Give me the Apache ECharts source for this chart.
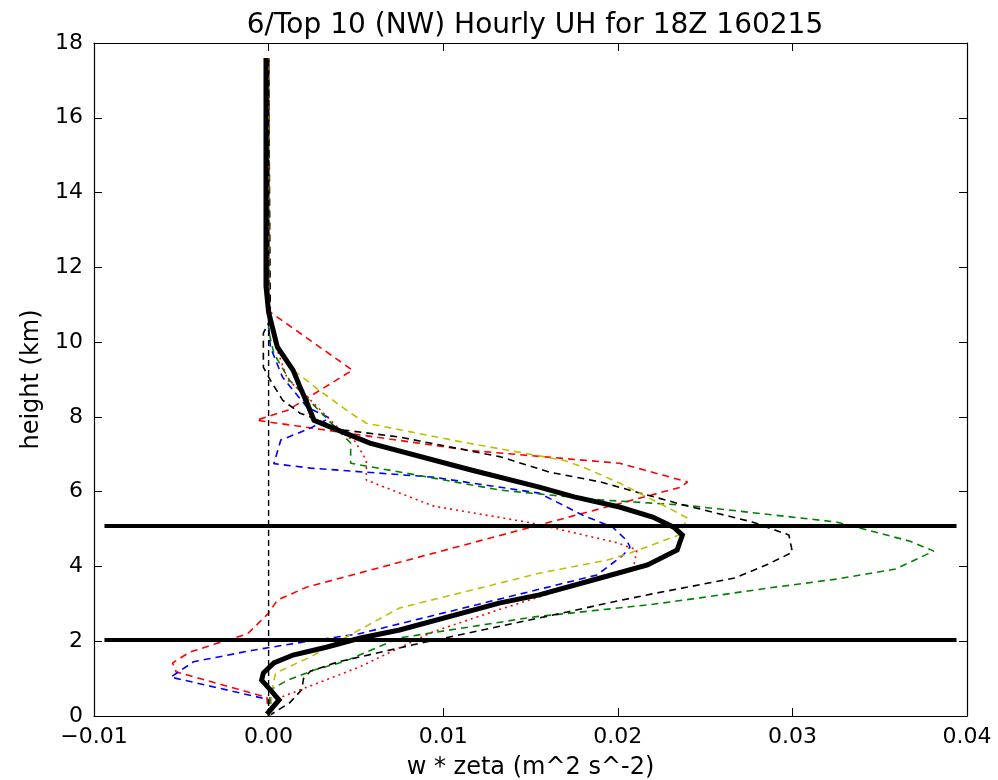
<!DOCTYPE html>
<html>
<head>
<meta charset="utf-8">
<script src="https://cdn.jsdelivr.net/npm/echarts@6/dist/echarts.min.js"></script>
<style>
html,body{margin:0;padding:0;background:#fff;}
#chart{width:998px;height:780px;}
</style>
</head>
<body>
<div id="chart"></div>
<script>
// ---- data (x: w*zeta, y: height km) ----
const titleText = '6/Top 10 (NW) Hourly UH for 18Z 160215';
const xTicks = [-0.01, 0.00, 0.01, 0.02, 0.03, 0.04];
const yTicks = [0, 2, 4, 6, 8, 10, 12, 14, 16, 18];

const redDashH = [0.0, 0.5, 1.18, 1.42, 1.71, 1.95, 2.2, 2.75, 3.1, 3.45, 6.12, 6.26, 6.76, 7.1, 7.91, 8.18, 9.25, 10.8, 11.5, 17.6];
const redDashV = [0.0, -0.0001, -0.0053, -0.0055, -0.0045, -0.0029, -0.0012, 0.0, 0.0005, 0.0022, 0.0236, 0.0240, 0.0201, 0.0116, -0.0007, 0.0011, 0.0048, 0.0001, 0.0, 0.0];

const blueDashH = [0.0, 0.43, 1.04, 1.45, 1.76, 1.98, 2.2, 3.77, 4.3, 4.52, 4.7, 5.05, 5.37, 5.96, 6.39, 6.63, 6.75, 7.38, 7.7, 7.97, 8.26, 9.06, 9.87, 10.5, 17.6];
const blueDashV = [0.0, 0.0001, -0.0056, -0.0043, -0.0009, 0.002, 0.0052, 0.0188, 0.0203, 0.0207, 0.0205, 0.0197, 0.018, 0.0155, 0.0094, 0.0024, 0.0003, 0.0007, 0.0024, 0.0035, 0.0022, 0.0008, 0.0001, 0.0, 0.0];

const greenDashH = [0.0, 0.7, 0.96, 1.23, 1.45, 1.63, 2.09, 2.65, 2.98, 3.16, 3.42, 3.66, 3.93, 4.41, 4.68, 5.19, 5.45, 5.64, 5.78, 6.04, 6.76, 7.3, 8.98, 9.7, 10.3, 17.6];
const greenDashV = [0.0, 0.0001, 0.0011, 0.0026, 0.0043, 0.0052, 0.0075, 0.0152, 0.0219, 0.0247, 0.0286, 0.0325, 0.0359, 0.0381, 0.0367, 0.0325, 0.0275, 0.0238, 0.019, 0.0133, 0.0047, 0.0047, 0.0012, 0.0003, 0.0, 0.0];

const blackDashH = [0.0, 0.35, 0.7, 1.0, 1.2, 1.45, 1.95, 2.78, 3.02, 3.26, 3.69, 4.06, 4.38, 4.84, 5.19, 5.64, 5.96, 6.26, 6.52, 6.93, 7.46, 7.65, 8.1, 8.45, 8.98, 9.33, 10.24, 10.6, 17.6];
const blackDashV = [0.0, 0.0012, 0.0019, 0.002, 0.0024, 0.004, 0.0087, 0.0171, 0.0194, 0.0219, 0.0267, 0.0286, 0.030, 0.0298, 0.0277, 0.0238, 0.0213, 0.019, 0.0161, 0.0133, 0.0075, 0.0043, 0.0018, 0.0008, 0.0001, -0.0003, -0.0003, 0.0001, 0.0];

const yellowDashH = [0.0, 0.7, 1.15, 1.58, 2.2, 2.89, 3.56, 3.82, 4.17, 4.36, 4.84, 5.29, 5.59, 6.23, 6.66, 6.84, 7.3, 7.83, 8.1, 8.64, 9.33, 10.05, 10.8, 17.6];
const yellowDashV = [0.0001, 0.0002, 0.0004, 0.0024, 0.0048, 0.0075, 0.0133, 0.0155, 0.0194, 0.0207, 0.0235, 0.024, 0.0228, 0.0201, 0.018, 0.0169, 0.0114, 0.0056, 0.0047, 0.0031, 0.0012, 0.0003, 0.0, 0.0];

const redDotH = [0.0, 0.5, 1.31, 2.25, 2.83, 3.42, 3.98, 4.44, 4.63, 5.16, 5.45, 5.62, 6.31, 6.84, 7.38, 7.46, 8.64, 8.98, 10.05, 11.0, 17.6];
const redDotV = [0.0, 0.0007, 0.0052, 0.0094, 0.0131, 0.0171, 0.0209, 0.0211, 0.02, 0.0151, 0.0115, 0.0094, 0.0056, 0.0056, 0.0049, 0.0045, 0.002, 0.0011, 0.0003, 0.0, 0.0];

const meanH = [0.05, 0.43, 0.7, 0.96, 1.15, 1.42, 1.63, 1.84, 2.08, 2.3, 3.02, 3.24, 3.69, 4.04, 4.44, 4.84, 5.05, 5.32, 5.59, 5.86, 6.12, 6.58, 7.3, 7.91, 8.37, 8.8, 9.25, 9.87, 10.8, 11.5, 17.6];
const meanV = [-0.0001, 0.0006, 0.0001, -0.0004, -0.0003, 0.0003, 0.0014, 0.0033, 0.0052, 0.0075, 0.0132, 0.0155, 0.019, 0.0217, 0.0234, 0.0237, 0.0232, 0.022, 0.0201, 0.0175, 0.0155, 0.0116, 0.0058, 0.0026, 0.0022, 0.0018, 0.0014, 0.0005, 0.0, -0.00015, -0.00015];

const zeroLineH = [0.0, 17.6];
const zeroLineV = [0.0, 0.0];

const layerBottom = 2.03;
const layerTop = 5.08;
const layerXRange = [-0.0094, 0.0394];

function pairs(vs, hs) { return vs.map((v, i) => [v, hs[i]]); }

const FONT = 'DejaVu Sans';
const chart = echarts.init(document.getElementById('chart'), null, {renderer: 'canvas'});

function member(name, vs, hs, color, dash) {
  return {
    name: name, type: 'line', data: pairs(vs, hs), symbol: 'none', smooth: false,
    lineStyle: {color: color, width: 1.6, type: dash, cap: 'butt'},
    z: 2, silent: true
  };
}

const fmtX = v => {
  const s = Math.abs(v).toFixed(2);
  return (v < -1e-9 ? '\u2212' : '') + s;
};

const option = {
  animation: false,
  backgroundColor: '#ffffff',
  title: {
    text: titleText, left: 530, top: 7, textAlign: 'center',
    textStyle: {fontFamily: FONT, fontSize: 28, fontWeight: 'normal', color: '#000'}
  },
  grid: {left: 94, right: 31, top: 43, bottom: 64, containLabel: false, outerBoundsMode: 'none'},
  xAxis: [{
    type: 'value', min: -0.01, max: 0.04, interval: 0.01, position: 'bottom',
    name: 'w * zeta (m^2 s^-2)', nameLocation: 'middle', nameGap: 40,
    nameTextStyle: {fontFamily: FONT, fontSize: 24, color: '#000'},
    axisLine: {show: true, onZero: false, lineStyle: {color: '#000', width: 1.2}},
    axisTick: {show: true, inside: true, length: 8, lineStyle: {color: '#000'}},
    axisLabel: {fontFamily: FONT, fontSize: 22, color: '#000', margin: 10, formatter: fmtX},
    splitLine: {show: false}
  }, {
    type: 'value', min: -0.01, max: 0.04, interval: 0.01, position: 'top',
    axisLine: {show: true, onZero: false, lineStyle: {color: '#000', width: 1.2}},
    axisTick: {show: true, inside: true, length: 8, lineStyle: {color: '#000'}},
    axisLabel: {show: false}, splitLine: {show: false}
  }],
  yAxis: [{
    type: 'value', min: 0, max: 18, interval: 2, position: 'left',
    name: 'height (km)', nameLocation: 'middle', nameGap: 47, nameRotate: 90,
    nameTextStyle: {fontFamily: FONT, fontSize: 24, color: '#000'},
    axisLine: {show: true, onZero: false, lineStyle: {color: '#000', width: 1.2}},
    axisTick: {show: true, inside: true, length: 8, lineStyle: {color: '#000'}},
    axisLabel: {fontFamily: FONT, fontSize: 22, color: '#000', margin: 11},
    splitLine: {show: false}
  }, {
    type: 'value', min: 0, max: 18, interval: 2, position: 'right',
    axisLine: {show: true, onZero: false, lineStyle: {color: '#000', width: 1.2}},
    axisTick: {show: true, inside: true, length: 8, lineStyle: {color: '#000'}},
    axisLabel: {show: false}, splitLine: {show: false}
  }],
  series: [
    member('r--', redDashV, redDashH, '#ff0000', [7, 5]),
    member('b--', blueDashV, blueDashH, '#0000ff', [7, 5]),
    member('g--', greenDashV, greenDashH, '#008000', [7, 5]),
    member('k--', blackDashV, blackDashH, '#000000', [7, 5]),
    member('y--', yellowDashV, yellowDashH, '#bfbf00', [7, 5]),
    member('r:', redDotV, redDotH, '#ff0000', [2, 4]),
    {
      name: 'zero', type: 'line', data: pairs(zeroLineV, zeroLineH), symbol: 'none',
      lineStyle: {color: '#000', width: 1.4, type: [6, 4]}, z: 3, silent: true
    },
    {
      name: 'mean', type: 'line', data: pairs(meanV, meanH), symbol: 'none',
      lineStyle: {color: '#000', width: 5, join: 'miter'}, z: 4, silent: true
    },
    {
      name: 'layerBottom', type: 'line', data: layerXRange.map(v => [v, layerBottom]), symbol: 'none',
      lineStyle: {color: '#000', width: 4}, z: 5, silent: true
    },
    {
      name: 'layerTop', type: 'line', data: layerXRange.map(v => [v, layerTop]), symbol: 'none',
      lineStyle: {color: '#000', width: 4}, z: 5, silent: true
    }
  ]
};
chart.setOption(option);
</script>
</body>
</html>
